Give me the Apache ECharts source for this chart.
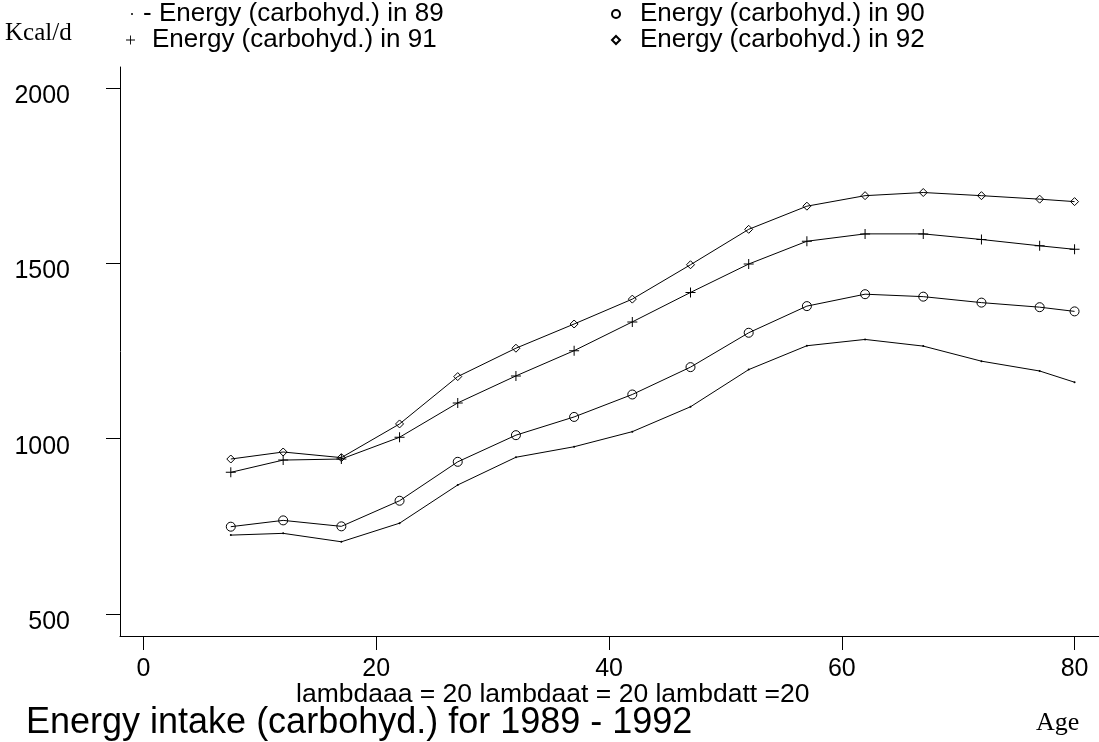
<!DOCTYPE html>
<html>
<head>
<meta charset="utf-8">
<script src="https://cdn.jsdelivr.net/npm/echarts@6.0.0/dist/echarts.min.js"></script>
<style>
  html, body { margin: 0; padding: 0; background: #fff; }
  #energy-chart { width: 1099px; height: 742px; }
</style>
</head>
<body>
<div id="energy-chart"></div>
<script>
// ages (x) and smoothed energy intake per year (Kcal/d)
var ages = [7.5, 12, 17, 22, 27, 32, 37, 42, 47, 52, 57, 62, 67, 72, 77, 80];
var energy89 = [725, 730, 706, 759, 868, 947, 977, 1020, 1091, 1197, 1265, 1283, 1264, 1221, 1193, 1161];
var energy90 = [749, 767, 750, 823, 934, 1010, 1062, 1126, 1204, 1302, 1378, 1412, 1405, 1388, 1375, 1363];
var energy91 = [904, 939, 942, 1004, 1102, 1179, 1251, 1333, 1417, 1498, 1563, 1584, 1584, 1568, 1550, 1540];
var energy92 = [942, 962, 946, 1042, 1177, 1258, 1327, 1398, 1496, 1597, 1663, 1693, 1702, 1693, 1683, 1676];

var seriesNames = [
  'Energy (carbohyd.) in 89',
  'Energy (carbohyd.) in 90',
  'Energy (carbohyd.) in 91',
  'Energy (carbohyd.) in 92'
];

var xTicks = [0, 20, 40, 60, 80];
var yTicks = [500, 1000, 1500, 2000];

var SANS = 'Liberation Sans';
var SERIF = 'Liberation Serif';
var PLUS = 'path://M4.5,0h1v4.5h4.5v1h-4.5v4.5h-1v-4.5h-4.5v-1h4.5z';

function pairs(values) {
  return ages.map(function (age, i) {
    return [age, values[i]];
  });
}

// hollow markers get a see-through fill so the line runs through them
function makeSeries(name, values, symbol, size, hollow) {
  return {
    name: name,
    type: 'line',
    data: pairs(values),
    symbol: symbol,
    symbolSize: size,
    showSymbol: true,
    lineStyle: { color: '#000', width: 1 },
    itemStyle: hollow
      ? { color: 'rgba(0,0,0,0)', borderColor: '#000', borderWidth: 1 }
      : { color: '#000', borderWidth: 0 },
    emphasis: { disabled: true }
  };
}

function makeLegend(name, icon, size, left, top, padLeft, prefix) {
  return {
    left: left,
    top: top,
    padding: 0,
    itemWidth: size,
    itemHeight: size,
    selectedMode: false,
    data: [{ name: name, icon: icon }],
    formatter: function (n) { return (prefix || '') + n; },
    textStyle: { fontFamily: SANS, fontSize: 26, color: '#000', padding: [0, 0, 0, padLeft] }
  };
}

function makeText(text, left, top, family, size) {
  return {
    text: text,
    left: left,
    top: top,
    padding: 0,
    textStyle: { fontFamily: family, fontSize: size, fontWeight: 'normal', color: '#000' }
  };
}

var chart = echarts.init(document.getElementById('energy-chart'), null, { renderer: 'canvas' });

chart.setOption({
  animation: false,
  backgroundColor: '#fff',
  title: [
    makeText('Energy intake (carbohyd.) for 1989 - 1992', 26, 705, SANS, 36),
    makeText('lambdaaa = 20 lambdaat = 20 lambdatt =20', 296, 681, SANS, 26.5),
    makeText('Age', 1036, 710, SERIF, 26),
    makeText('Kcal/d', 5, 21, SERIF, 25)
  ],
  legend: [
    makeLegend(seriesNames[0], 'circle', 2, 131, 1, 5, '- '),
    makeLegend(seriesNames[1], 'circle', 8, 611, 1, 15),
    makeLegend(seriesNames[2], PLUS, 9, 126, 27, 12),
    makeLegend(seriesNames[3], 'diamond', 8, 611, 27, 15)
  ],
  grid: { left: 120, right: 0, top: 67, bottom: 106, containLabel: false },
  xAxis: {
    type: 'value',
    min: -2.02,
    max: 82.1,
    axisLine: { show: true, onZero: false, lineStyle: { color: '#000', width: 1 } },
    axisTick: { show: true, inside: false, length: 14, customValues: xTicks, lineStyle: { color: '#000', width: 1 } },
    axisLabel: { customValues: xTicks, margin: 21, fontFamily: SANS, fontSize: 25, color: '#000' },
    splitLine: { show: false }
  },
  yAxis: {
    type: 'value',
    min: 437.3,
    max: 2059.9,
    axisLine: { show: true, onZero: false, lineStyle: { color: '#000', width: 1 } },
    axisTick: { show: true, length: 14, customValues: yTicks, lineStyle: { color: '#000', width: 1 } },
    axisLabel: {
      customValues: yTicks,
      margin: 50,
      fontFamily: SANS,
      fontSize: 25,
      color: '#000',
      verticalAlign: 'top',
      lineHeight: 16,
      formatter: function (v) { return String(v); }
    },
    splitLine: { show: false }
  },
  series: [
    makeSeries(seriesNames[0], energy89, 'circle', 2, false),
    makeSeries(seriesNames[1], energy90, 'circle', 9, true),
    makeSeries(seriesNames[2], energy91, PLUS, 10, false),
    makeSeries(seriesNames[3], energy92, 'diamond', 8, true)
  ]
});
</script>
</body>
</html>
